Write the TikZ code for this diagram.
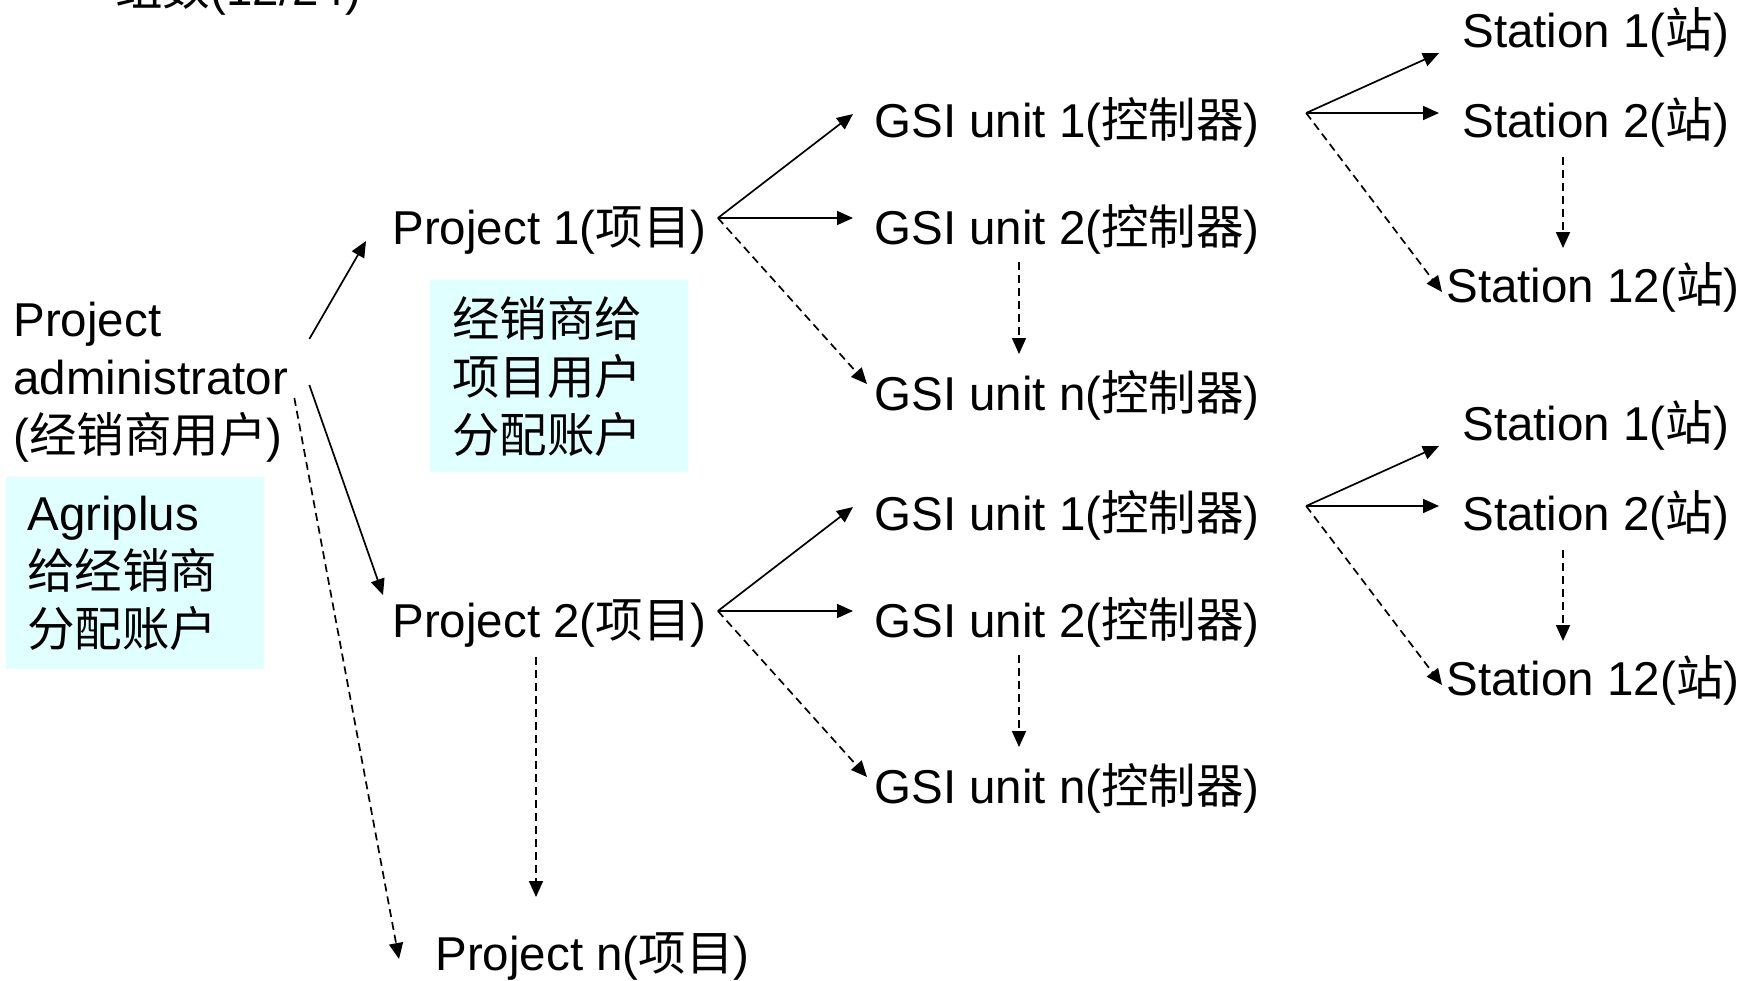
\documentclass[tikz,border=0pt]{standalone}
\usepackage{fontspec}
\setmainfont{Liberation Sans}
\newfontfamily\cjk{Noto Sans CJK SC}
\newcommand{\zh}[1]{{\cjk #1}}
\usepackage{tikz}
\usetikzlibrary{arrows.meta}
\definecolor{notefill}{RGB}{224,255,255}

\begin{document}
\begin{tikzpicture}[
    x=0.5pt, y=-0.5pt,
    font=\fontsize{23.75}{29}\selectfont,
    lbl/.style={inner sep=0pt, anchor=base west},
    note/.style={fill=notefill, anchor=north west, align=left,
                 minimum width=129pt, minimum height=96pt},
    arr/.style={-{Triangle[length=8pt, width=7pt]}, line width=0.85pt},
    darr/.style={arr, dash pattern=on 4pt off 2.5pt},
  ]
  \useasboundingbox (0,0) rectangle (1745,980);

  % ---- Cut-off heading ----
  \node[lbl] (cnt) at (115,5) {\zh{组数}(12/24)};

  % ---- Dealer ----
  \node[inner sep=0pt, anchor=west, align=left] (admin) at (13,382)
    {Project\\administrator\\(\zh{经销商用户})};
  \node[note, text width=108pt, inner xsep=10.5pt] (agri) at (6,477)
    {Agriplus\\\zh{给经销商}\\\zh{分配账户}};

  % ---- Projects ----
  \node[lbl] (p1) at (392,244) {Project 1(\zh{项目})};
  \node[lbl] (p2) at (392,637) {Project 2(\zh{项目})};
  \node[lbl] (pn) at (435,970) {Project n(\zh{项目})};
  \node[note, text width=107pt, inner xsep=11pt] (puser) at (430,280)
    {\zh{经销商给}\\\zh{项目用户}\\\zh{分配账户}};

  % ---- GSI units ----
  \node[lbl] (g1a) at (874,137) {GSI unit 1(\zh{控制器})};
  \node[lbl] (g2a) at (874,244) {GSI unit 2(\zh{控制器})};
  \node[lbl] (gna) at (874,410) {GSI unit n(\zh{控制器})};
  \node[lbl] (g1b) at (874,530) {GSI unit 1(\zh{控制器})};
  \node[lbl] (g2b) at (874,637) {GSI unit 2(\zh{控制器})};
  \node[lbl] (gnb) at (874,803) {GSI unit n(\zh{控制器})};

  % ---- Stations ----
  \node[lbl] (s1a) at (1462,47) {Station 1(\zh{站})};
  \node[lbl] (s2a) at (1462,137) {Station 2(\zh{站})};
  \node[lbl] (s12a) at (1446,302) {Station 12(\zh{站})};
  \node[lbl] (s1b) at (1462,440) {Station 1(\zh{站})};
  \node[lbl] (s2b) at (1462,530) {Station 2(\zh{站})};
  \node[lbl] (s12b) at (1446,695) {Station 12(\zh{站})};

  % ---- Fan origins ----
  \coordinate (p1o) at ([shift={(11,-26)}]p1.base east);
  \coordinate (p2o) at ([shift={(11,-26)}]p2.base east);
  \coordinate (g1ao) at ([shift={(46,-24)}]g1a.base east);
  \coordinate (g1bo) at ([shift={(46,-24)}]g1b.base east);

  % ---- Dealer -> projects ----
  \draw[arr] ([shift={(21,-43)}]admin.east) -- ([shift={(-26,-3)}]p1.base west);
  \draw[arr] ([shift={(21,3)}]admin.east) -- ([shift={(-9,-42)}]p2.base west);
  \draw[darr] ([shift={(6,16)}]admin.east) -- ([shift={(-36,-11)}]pn.base west);
  \draw[darr] ([shift={(144,20)}]p2.base west) -- ([shift={(101,-73)}]pn.base west);

  % ---- Projects -> GSI units ----
  \draw[arr] (p1o) -- ([shift={(-21,-23)}]g1a.base west);
  \draw[arr] (p1o) -- ([shift={(-21,-26)}]g2a.base west);
  \draw[darr] (p1o) -- ([shift={(-7,-26)}]gna.base west);
  \draw[darr] ([shift={(145,18)}]g2a.base west) -- ([shift={(145,-56)}]gna.base west);
  \draw[arr] (p2o) -- ([shift={(-21,-23)}]g1b.base west);
  \draw[arr] (p2o) -- ([shift={(-21,-26)}]g2b.base west);
  \draw[darr] (p2o) -- ([shift={(-7,-26)}]gnb.base west);
  \draw[darr] ([shift={(145,18)}]g2b.base west) -- ([shift={(145,-56)}]gnb.base west);

  % ---- GSI units -> stations ----
  \draw[arr] (g1ao) -- ([shift={(-23,6)}]s1a.base west);
  \draw[arr] (g1ao) -- ([shift={(-23,-24)}]s2a.base west);
  \draw[darr] (g1ao) -- ([shift={(-4,-10)}]s12a.base west);
  \draw[darr] ([shift={(101,20)}]s2a.base west) -- ([shift={(117,-54)}]s12a.base west);
  \draw[arr] (g1bo) -- ([shift={(-23,6)}]s1b.base west);
  \draw[arr] (g1bo) -- ([shift={(-23,-24)}]s2b.base west);
  \draw[darr] (g1bo) -- ([shift={(-4,-10)}]s12b.base west);
  \draw[darr] ([shift={(101,20)}]s2b.base west) -- ([shift={(117,-54)}]s12b.base west);

\end{tikzpicture}
\end{document}
